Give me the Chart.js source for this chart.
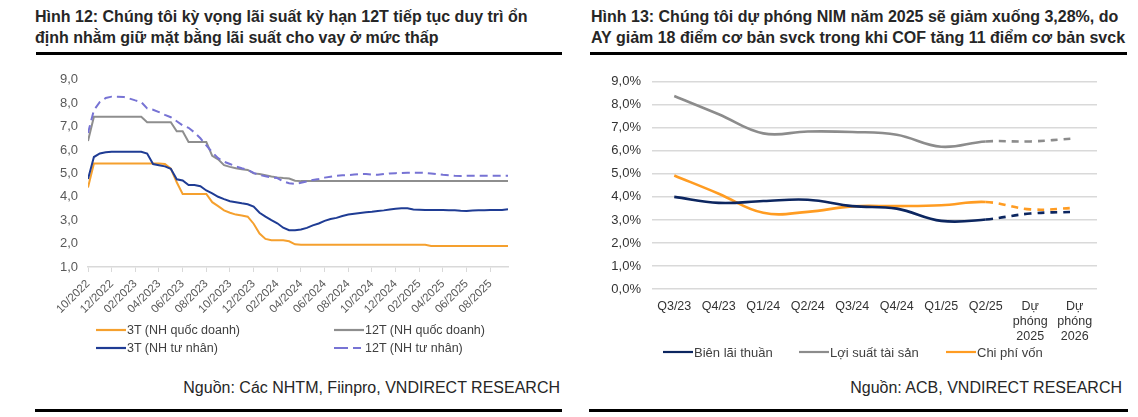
<!DOCTYPE html>
<html>
<head>
<meta charset="utf-8">
<script src="https://cdn.jsdelivr.net/npm/chart.js@4/dist/chart.umd.min.js"></script>
<style>
  html, body { margin: 0; padding: 0; background: #fff; }
  body { width: 1138px; height: 417px; position: relative; overflow: hidden;
         font-family: "Liberation Sans", Arial, sans-serif; }
  .title { position: absolute; top: 6px; font-weight: bold; font-size: 16px;
           line-height: 21px; color: #262626; white-space: nowrap; }
  .rule { position: absolute; height: 3px; background: #000; }
  .src { position: absolute; font-size: 16px; color: #262626; white-space: nowrap; }
  .leg { position: absolute; font-size: 12.5px; color: #404040; white-space: nowrap;
         display: flex; align-items: center; height: 16px; }
  .leg svg { margin-right: 1px; }
  canvas { position: absolute; }
</style>
</head>
<body>
<div class="title" style="left:35px">Hình 12: Chúng tôi kỳ vọng lãi suất kỳ hạn 12T tiếp tục duy trì ổn<br>định nhằm giữ mặt bằng lãi suất cho vay ở mức thấp</div>
<div class="title" style="left:591px">Hình 13: Chúng tôi dự phóng NIM năm 2025 sẽ giảm xuống 3,28%, do<br>AY giảm 18 điểm cơ bản svck trong khi COF tăng 11 điểm cơ bản svck</div>
<div class="rule" style="left:36px;width:526px;top:52px"></div>
<div class="rule" style="left:590px;width:537px;top:52px"></div>
<div class="rule" style="left:35px;width:527px;top:409px"></div>
<div class="rule" style="left:589px;width:539px;top:409px"></div>

<div style="position:absolute;left:40px;top:62px;width:480px;height:262px"><canvas id="chartLai"></canvas></div>
<div style="position:absolute;left:590px;top:63px;width:540px;height:282px"><canvas id="chartNim"></canvas></div>

<div id="legLai"></div>
<div id="legNim"></div>

<div class="src" style="right:578px;top:379px">Nguồn: Các NHTM, Fiinpro, VNDIRECT RESEARCH</div>
<div class="src" style="right:16px;top:379px">Nguồn: ACB, VNDIRECT RESEARCH</div>

<script>
// ── Du lieu Hinh 12 (moi diem = nua thang, bat dau 10/2022) ──────────────
const TICK_LABELS = ["10/2022","12/2022","02/2023","04/2023","06/2023","08/2023",
  "10/2023","12/2023","02/2024","04/2024","06/2024","08/2024",
  "10/2024","12/2024","02/2025","04/2025","06/2025","08/2025"];

const QD_3T = [4.4, 5.42, 5.42, 5.42, 5.42, 5.42, 5.42, 5.42, 5.42, 5.42, 5.42, 5.42,
  5.42, 5.4, 5.2, 4.62, 4.12, 4.12, 4.12, 4.12, 4.12, 3.77, 3.6, 3.42,
  3.32, 3.24, 3.2, 3.15, 2.85, 2.43, 2.2, 2.14, 2.14, 2.14, 2.1, 1.97,
  1.95, 1.95, 1.95, 1.95, 1.95, 1.95, 1.95, 1.95, 1.95, 1.95, 1.95, 1.95,
  1.95, 1.95, 1.95, 1.95, 1.95, 1.95, 1.95, 1.95, 1.95, 1.95, 1.9, 1.9,
  1.9, 1.9, 1.9, 1.9, 1.9, 1.9, 1.9, 1.9, 1.9, 1.9, 1.9, 1.9];

const TN_3T = [4.76, 5.7, 5.85, 5.9, 5.93, 5.93, 5.93, 5.93, 5.92, 5.92, 5.85, 5.4,
  5.35, 5.3, 5.2, 4.75, 4.7, 4.5, 4.5, 4.45, 4.27, 4.15, 4.0, 3.9,
  3.81, 3.77, 3.72, 3.68, 3.58, 3.32, 3.15, 3.0, 2.87, 2.68, 2.57, 2.57,
  2.6, 2.67, 2.78, 2.86, 2.97, 3.05, 3.1, 3.18, 3.24, 3.28, 3.31, 3.34,
  3.36, 3.39, 3.42, 3.46, 3.49, 3.51, 3.51, 3.46, 3.45, 3.44, 3.44, 3.44,
  3.44, 3.43, 3.42, 3.4, 3.39, 3.41, 3.42, 3.43, 3.44, 3.44, 3.44, 3.47];

const QD_12T = [6.38, 7.42, 7.42, 7.42, 7.42, 7.42, 7.42, 7.42, 7.42, 7.42, 7.19, 7.19,
  7.19, 7.19, 7.19, 6.8, 6.8, 6.34, 6.34, 6.34, 6.34, 5.75, 5.6, 5.35,
  5.28, 5.22, 5.18, 5.15, 5.0, 4.97, 4.92, 4.87, 4.83, 4.8, 4.78, 4.69,
  4.67, 4.67, 4.67, 4.67, 4.67, 4.67, 4.67, 4.67, 4.67, 4.67, 4.67, 4.67,
  4.67, 4.67, 4.67, 4.67, 4.67, 4.67, 4.67, 4.67, 4.67, 4.67, 4.67, 4.67,
  4.67, 4.67, 4.67, 4.67, 4.67, 4.67, 4.67, 4.67, 4.67, 4.67, 4.67, 4.67];

const TN_12T = [6.73, 7.7, 8.05, 8.22, 8.28, 8.28, 8.27, 8.2, 8.12, 8.05, 7.78, 7.72,
  7.62, 7.5, 7.4, 7.23, 7.05, 6.95, 6.75, 6.5, 6.2, 5.9, 5.65, 5.5,
  5.4, 5.3, 5.22, 5.15, 5.02, 4.93, 4.88, 4.83, 4.8, 4.66, 4.58, 4.55,
  4.6, 4.66, 4.72, 4.76, 4.82, 4.86, 4.9, 4.92, 4.93, 4.95, 4.97, 4.97,
  4.95, 4.94, 4.97, 5.0, 5.01, 5.02, 5.03, 5.03, 5.03, 5.02, 5.0, 4.97,
  4.94, 4.92, 4.9, 4.89, 4.9, 4.9, 4.9, 4.9, 4.9, 4.9, 4.9, 4.9];

// ── Du lieu Hinh 13 ──────────────────────────────────────────────────────
const QUY = ["Q3/23","Q4/23","Q1/24","Q2/24","Q3/24","Q4/24","Q1/25","Q2/25",
  ["Dự","phóng","2025"], ["Dự","phóng","2026"]];
const NIM = [4.0, 3.74, 3.82, 3.88, 3.6, 3.49, 2.96, 3.02, 3.28, 3.35];
const AY  = [8.38, 7.59, 6.76, 6.84, 6.82, 6.7, 6.18, 6.41, 6.41, 6.54];
const COF = [4.93, 4.14, 3.31, 3.35, 3.59, 3.6, 3.64, 3.78, 3.46, 3.52];
const FORECAST_FROM = 8;

// ── Mau ──────────────────────────────────────────────────────────────────
const C = {
  cam: "#F5A02E", xam: "#8E8E8E", xanh: "#1F3C94", tim: "#7773D4",
  nim: "#0C2660", ay: "#8C8C8C", cof: "#FF9C22",
  tick: "#595959", luoi: "#D9D9D9",
};
const FONT = "'Liberation Sans', Arial, sans-serif";
const vn1 = (v) => v.toFixed(1).replace(".", ",");

const pts = (arr) => arr.map((v, i) => ({ x: i / 2, y: v }));

const lineDs = (label, arr, color, dash) => ({
  label, data: pts(arr), borderColor: color, borderWidth: 2,
  borderDash: dash || [], pointRadius: 0, tension: 0, fill: false,
});

// ── Hinh 12 ──────────────────────────────────────────────────────────────
new Chart(document.getElementById("chartLai"), {
  type: "line",
  data: {
    datasets: [
      lineDs("12T (NH tư nhân)", TN_12T, C.tim, [8, 5]),
      lineDs("3T (NH tư nhân)", TN_3T, C.xanh),
      lineDs("12T (NH quốc doanh)", QD_12T, C.xam),
      lineDs("3T (NH quốc doanh)", QD_3T, C.cam),
    ],
  },
  options: {
    responsive: true, maintainAspectRatio: false, animation: false,
    layout: { padding: { top: 1, right: 12, left: 0, bottom: 0 } },
    plugins: { legend: { display: false }, tooltip: { enabled: false } },
    scales: {
      x: {
        type: "linear", min: 0, max: 35.5,
        afterBuildTicks: (ax) => { ax.ticks = TICK_LABELS.map((_, i) => ({ value: i * 2 })); },
        afterFit: (ax) => { ax.height = 57; },
        ticks: {
          autoSkip: false, minRotation: 45, maxRotation: 45, padding: 5,
          color: C.tick, font: { family: FONT, size: 11.5 },
          callback: (v) => TICK_LABELS[Math.round(v / 2)],
        },
        grid: { display: true, drawOnChartArea: false, drawTicks: true, tickLength: 5, color: C.luoi },
        border: { color: C.luoi, width: 1.5 },
      },
      y: {
        min: 1, max: 9,
        afterFit: (ax) => { ax.width = 48; },
        ticks: { stepSize: 1, padding: 10, color: C.tick, font: { family: FONT, size: 13 }, callback: vn1 },
        grid: { display: false, drawTicks: false },
        border: { display: false },
      },
    },
  },
});

// ── Hinh 13 ──────────────────────────────────────────────────────────────
const dashAfter = (ctx) => (ctx.p1DataIndex >= FORECAST_FROM ? [7, 6] : undefined);
const nimDs = (label, arr, color) => ({
  label, data: arr, borderColor: color, borderWidth: 2.6, pointRadius: 0,
  tension: 0.4, fill: false, segment: { borderDash: dashAfter },
});

new Chart(document.getElementById("chartNim"), {
  type: "line",
  data: {
    labels: QUY,
    datasets: [
      nimDs("Biên lãi thuần", NIM, C.nim),
      nimDs("Chi phí vốn", COF, C.cof),
      nimDs("Lợi suất tài sản", AY, C.ay),
    ],
  },
  options: {
    responsive: true, maintainAspectRatio: false, animation: false,
    layout: { padding: { top: 4, right: 33, left: 0, bottom: 0 } },
    plugins: { legend: { display: false }, tooltip: { enabled: false } },
    scales: {
      x: {
        offset: true,
        afterFit: (ax) => { ax.height = 56; },
        ticks: { autoSkip: false, maxRotation: 0, padding: 10, color: "#333",
                 font: { family: FONT, size: 12.5, lineHeight: "15px" } },
        grid: { display: false, drawTicks: false },
        border: { display: false },
      },
      y: {
        min: 0, max: 9,
        afterFit: (ax) => { ax.width = 62; },
        ticks: { stepSize: 1, padding: 11, color: "#333", font: { family: FONT, size: 13 },
                 callback: (v) => vn1(v) + "%" },
        grid: { color: C.luoi, lineWidth: 1.5, drawTicks: false },
        border: { display: false },
      },
    },
  },
});

// ── Chu giai ─────────────────────────────────────────────────────────────
const swatch = (color, dash) =>
  `<svg width="30" height="4"><line x1="0" y1="2" x2="30" y2="2" stroke="${color}" stroke-width="2.2"
    ${dash ? `stroke-dasharray="${dash}"` : ""}/></svg>`;

const LEG_LAI = [
  { t: "3T (NH quốc doanh)", c: C.cam, x: 96, y: 322 },
  { t: "12T (NH quốc doanh)", c: C.xam, x: 334, y: 322 },
  { t: "3T (NH tư nhân)", c: C.xanh, x: 96, y: 340 },
  { t: "12T (NH tư nhân)", c: C.tim, x: 334, y: 340, d: "14 5 8 20" },
];
const LEG_NIM = [
  { t: "Biên lãi thuần", c: C.nim, x: 663, y: 344 },
  { t: "Lợi suất tài sản", c: C.ay, x: 799, y: 344 },
  { t: "Chi phí vốn", c: C.cof, x: 946, y: 344 },
];
const renderLeg = (id, items, size) => {
  document.getElementById(id).innerHTML = items
    .map((l) => `<div class="leg" style="left:${l.x}px;top:${l.y}px;font-size:${size}px">${swatch(l.c, l.d)}${l.t}</div>`)
    .join("");
};
renderLeg("legLai", LEG_LAI, 12.5);
renderLeg("legNim", LEG_NIM, 13);
</script>
</body>
</html>
